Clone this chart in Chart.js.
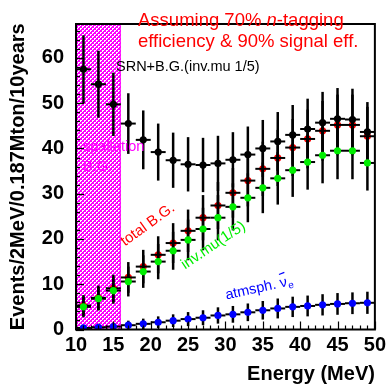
<!DOCTYPE html>
<html><head><meta charset="utf-8">
<script src="https://cdn.jsdelivr.net/npm/chart.js@4.4.0/dist/chart.umd.min.js"></script>
<style>html,body{margin:0;padding:0;background:#fff;}canvas{display:block;}</style>
</head><body>
<canvas id="c" width="390" height="386"></canvas>
<script>
// ---- data ----
const energies   = [11,13,15,17,19,21,23,25,27,29,31,33,35,37,39,41,43,45,47,49];
const srnBg      = [57.5,54.2,49.75,45.5,41.9,39.2,37.4,36.5,36.35,36.7,37.5,38.65,40.0,41.55,43.0,44.3,45.7,46.55,46.4,43.65];
const srnBgErr   = [7.5,7.4,7.0,6.7,6.5,6.3,6.1,6.0,6.0,6.1,6.1,6.2,6.3,6.5,6.6,6.7,6.8,6.8,6.8,6.6];
const totalBg    = [5.3,7.0,9.1,11.5,13.9,16.5,19.1,21.8,24.7,27.4,30.2,32.9,35.5,37.9,40.2,42.1,43.9,45.2,45.2,42.7];
const totalBgErr = [2.3,2.7,3.0,3.4,3.7,4.1,4.4,4.7,5.0,5.2,5.5,5.7,6.0,6.2,6.3,6.5,6.6,6.7,6.7,6.5];
const invMu      = [5.0,6.8,8.6,10.6,12.8,15.0,17.4,19.8,22.2,24.7,27.1,29.1,31.3,33.4,35.2,37.0,38.5,39.5,39.5,36.8];
const invMuErr   = [2.3,2.6,2.9,3.3,3.6,3.9,4.2,4.5,4.7,5.0,5.2,5.4,5.6,5.8,5.9,6.1,6.2,6.3,6.3,6.1];
const atmNue     = [0.35,0.5,0.65,0.95,1.25,1.6,1.95,2.3,2.6,3.1,3.35,3.8,4.25,4.65,5.0,5.2,5.45,5.65,5.8,5.9];
const atmNueErr  = [0.6,0.75,0.85,1.0,1.15,1.3,1.4,1.55,1.65,1.8,1.85,1.95,2.05,2.2,2.25,2.3,2.35,2.4,2.4,2.45];
const binHalfWidth = [1,1,1,1,1,1,1,1,1,1,1,1,1,1,1,1,1,1,1,1];
const spallationRange = [10,16];
const xTicks = [10,15,20,25,30,35,40,45,50];
const yTicks = [0,10,20,30,40,50,60];
const xMinorStep = 1, yMinorStep = 2;

const FONT = '"Liberation Sans", Arial, Helvetica, sans-serif';
const RED = '#ff0000', GREEN = '#00ee00', BLUE = '#0000ff', MAGENTA = '#ff00ff';

function pts(vals){ return energies.map((e,i)=>({x:e,y:vals[i]})); }

// hatch pattern
const tile = document.createElement('canvas'); tile.width = 4; tile.height = 4;
(function(){
  const t = tile.getContext('2d');
  t.fillStyle = MAGENTA; t.fillRect(0,0,4,4);
  t.fillStyle = '#ffffff';
  t.fillRect(0,0,2,1); t.fillRect(0,1,1,1);
  t.fillRect(2,2,2,1); t.fillRect(2,3,1,1);
})();

const errorSets = [
  {vals: totalBg, err: totalBgErr},
  {vals: srnBg, err: srnBgErr},
  {vals: invMu, err: invMuErr},
  {vals: atmNue, err: atmNueErr}
];

const decor = {
  id: 'decor',
  beforeDatasetsDraw(chart){
    const {ctx, chartArea:a, scales:{x,y}} = chart;
    ctx.save();
    ctx.fillStyle = ctx.createPattern(tile,'repeat');
    const x0 = x.getPixelForValue(spallationRange[0]), x1 = x.getPixelForValue(spallationRange[1]);
    ctx.fillRect(x0, a.top, x1-x0, a.bottom-a.top);
    ctx.strokeStyle = MAGENTA; ctx.lineWidth = 1;
    ctx.beginPath(); ctx.moveTo(x1-0.5,a.top); ctx.lineTo(x1-0.5,a.bottom); ctx.stroke();
    ctx.restore();
  },
  afterDatasetDraw(chart, args){
    if (args.index !== 0) return;   // right after the red markers
    const {ctx, scales:{x,y}} = chart;
    ctx.save();
    ctx.strokeStyle = '#000';
    errorSets.forEach(s=>{
      energies.forEach((e,i)=>{
        const px = x.getPixelForValue(e), py = y.getPixelForValue(s.vals[i]);
        ctx.lineWidth = 2.5;
        ctx.beginPath();
        ctx.moveTo(px, y.getPixelForValue(s.vals[i]+s.err[i]));
        ctx.lineTo(px, y.getPixelForValue(Math.max(0,s.vals[i]-s.err[i])));
        ctx.stroke();
        ctx.lineWidth = 2;
        ctx.beginPath();
        ctx.moveTo(x.getPixelForValue(e-binHalfWidth[i]), py);
        ctx.lineTo(x.getPixelForValue(e+binHalfWidth[i]), py);
        ctx.stroke();
      });
    });
    ctx.restore();
  },
  afterDraw(chart){
    const {ctx, chartArea:a, scales:{x,y}} = chart;
    ctx.save();
    // tick marks (inside)
    ctx.strokeStyle = '#000'; ctx.lineWidth = 1.2;
    for (let v = x.min; v <= x.max + 1e-9; v += xMinorStep) {
      const px = Math.round(x.getPixelForValue(v)) + 0.5;
      const major = xTicks.includes(v);
      ctx.beginPath(); ctx.moveTo(px, a.bottom); ctx.lineTo(px, a.bottom - (major ? 8 : 4)); ctx.stroke();
    }
    for (let v = 0; v <= y.max + 1e-9; v += yMinorStep) {
      const py = Math.round(y.getPixelForValue(v)) + 0.5;
      const major = yTicks.includes(v);
      ctx.beginPath(); ctx.moveTo(a.left, py); ctx.lineTo(a.left + (major ? 8 : 4), py); ctx.stroke();
    }
    // frame
    ctx.lineWidth = 2;
    ctx.strokeRect(a.left, a.top, a.right - a.left, a.bottom - a.top);

    // annotations
    ctx.textBaseline = 'alphabetic'; ctx.textAlign = 'left';
    ctx.fillStyle = RED;
    ctx.font = '18.5px ' + FONT;
    let s1 = 'Assuming 70% ', tx = 138;
    ctx.fillText(s1, tx, 26); tx += ctx.measureText(s1).width;
    ctx.font = 'italic 18.5px ' + FONT;
    ctx.fillText('n', tx, 26); tx += ctx.measureText('n').width;
    ctx.font = '18.5px ' + FONT;
    ctx.fillText('-tagging', tx, 26);
    ctx.fillText('efficiency & 90% signal eff.', 138, 46.5);

    ctx.fillStyle = '#000';
    ctx.font = '14.5px ' + FONT;
    ctx.fillText('SRN+B.G.(inv.mu 1/5)', 116, 70.5);

    ctx.fillStyle = MAGENTA;
    ctx.font = '14.5px ' + FONT;
    ctx.fillText('spallation', 83, 151);
    ctx.fillText('B.G.', 83, 170.5);

    function rot(str, px, py, deg, font, color){
      ctx.save(); ctx.translate(px, py); ctx.rotate(deg*Math.PI/180);
      ctx.font = font; ctx.fillStyle = color; ctx.fillText(str, 0, 0);
      const w = ctx.measureText(str).width; ctx.restore(); return w;
    }
    rot('total B.G.', 125, 246.5, -36, '15px ' + FONT, RED);
    rot('inv.mu(1/5)', 185, 269.5, -34, '15px ' + FONT, GREEN);

    // atmsph. nu-bar_e
    ctx.save(); ctx.translate(226.5, 299.5); ctx.rotate(-12.5*Math.PI/180);
    ctx.fillStyle = BLUE; ctx.strokeStyle = BLUE;
    ctx.font = '14.5px ' + FONT;
    const w1 = ctx.measureText('atmsph. ').width;
    ctx.fillText('atmsph. ', 0, 0);
    ctx.fillText('\u03BD', w1, 0);
    const wn = ctx.measureText('\u03BD').width;
    ctx.lineWidth = 1.2;
    ctx.beginPath(); ctx.moveTo(w1+1, -13); ctx.lineTo(w1+wn-0.5, -14); ctx.stroke();
    ctx.font = '10px ' + FONT;
    ctx.fillText('e', w1 + wn + 0.5, 3);
    ctx.restore();

    ctx.restore();
  }
};

const markerDs = (label, vals, color, order) => ({
  label, data: pts(vals), order,
  pointRadius: 3.6, pointHoverRadius: 3.6, pointBackgroundColor: color,
  pointBorderWidth: 0, borderColor: color, backgroundColor: color, showLine: false
});

new Chart(document.getElementById('c'), {
  type: 'scatter',
  data: { datasets: [
    markerDs('total B.G.', totalBg, RED, 4),
    markerDs('SRN+B.G.(inv.mu 1/5)', srnBg, '#000', 3),
    markerDs('inv.mu(1/5)', invMu, GREEN, 2),
    markerDs('atmsph. anti-nu_e', atmNue, BLUE, 1)
  ]},
  options: {
    responsive: false, animation: false, devicePixelRatio: 1,
    layout: { padding: { left: 0, right: 14, top: 6, bottom: 0 } },
    plugins: { legend: { display: false }, tooltip: { enabled: false } },
    events: [],
    scales: {
      x: {
        type: 'linear', min: 10, max: 50,
        afterBuildTicks(s){ s.ticks = xTicks.map(v=>({value:v})); },
        afterFit(s){ s.height = 56.5; },
        ticks: { autoSkip: false, maxRotation: 0, padding: 4, color: '#000',
                 font: { family: FONT, size: 20, weight: 'bold' } },
        grid: { display: false, drawTicks: false },
        border: { display: false },
        title: { display: true, text: 'Energy (MeV)', align: 'end', color: '#000',
                 font: { family: FONT, size: 20, weight: 'bold' }, padding: { top: 0, bottom: 0 } }
      },
      y: {
        type: 'linear', min: 0, max: 67.5,
        afterBuildTicks(s){ s.ticks = yTicks.map(v=>({value:v})); },
        afterFit(s){ s.width = 76; },
        ticks: { padding: 12, color: '#000', font: { family: FONT, size: 20, weight: 'bold' } },
        grid: { display: false, drawTicks: false },
        border: { display: false },
        title: { display: true, text: 'Events/2MeV/0.187Mton/10years', color: '#000',
                 font: { family: FONT, size: 20, weight: 'bold' }, padding: { top: 6, bottom: 0 } }
      }
    }
  },
  plugins: [decor]
});
</script>
</body></html>
